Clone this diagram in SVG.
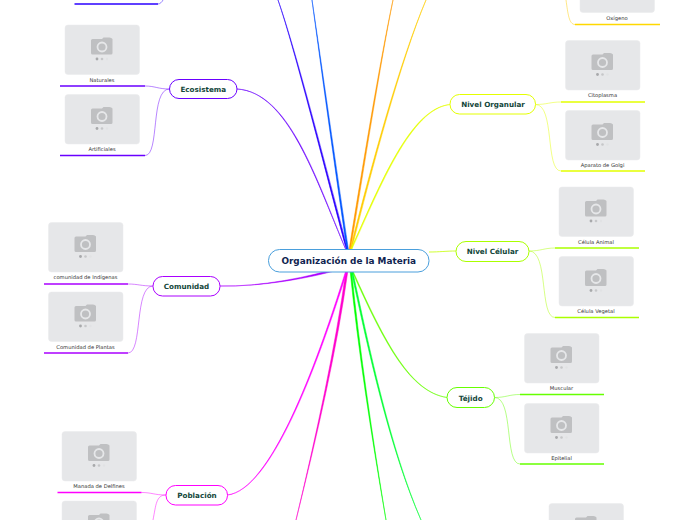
<svg xmlns="http://www.w3.org/2000/svg" width="696" height="520" viewBox="0 0 696 520">
<style>
text{font-family:"DejaVu Sans",Verdana,sans-serif;text-anchor:middle}
.n{font-size:7.2px;font-weight:700;fill:#12463a}
.c{font-size:8.9px;font-weight:700;fill:#0f2450}
.l{font-size:5.2px;fill:#333}
.b{fill:#fff;stroke-width:1}
.m{stroke-width:.5;stroke-linejoin:round}
.s{fill:none;stroke-width:.8;opacity:.6}
.u{fill:none;stroke-width:1.5}
</style>
<defs>
<g id="ph">
<rect x="0" y="0" width="74.500" height="49.500" rx="3" fill="#e6e7e9" stroke="#ebebec" stroke-width=".5"/>
<path d="M26 15.500q0-1.500 1.500-1.500h9.500l1.500-1.500h6q2 0 3 1.500v14q0 1.500-1.500 1.500h-18.500q-1.500 0-1.500-1.500z" fill="#bfc0c2"/>
<circle cx="37" cy="22" r="4.500" fill="none" stroke="#e6e7e9" stroke-width="1.800"/>
<circle cx="32" cy="34" r="1.400" fill="#a8a9ab"/>
<circle cx="37" cy="34" r="1.300" fill="#c6c7c9"/>
<circle cx="42" cy="34" r="1.200" fill="#e1e2e4"/>
</g>
</defs>
<g id="connectors">
<path class="m" fill="#6a00ff" stroke="#6a00ff" d="M237 89C288 92 315 178 346 250C316 178 289 92 237 89Z"/>
<path class="m" fill="#2a00ff" stroke="#2a00ff" d="M278 0C295 50 325 170 346.500 250L348 250C326.500 170 296 50 278 0Z"/>
<path class="m" fill="#0055ff" stroke="#0055ff" d="M312 0C320 60 335 170 347 250L348.500 250C336.500 170 321 60 312 0Z"/>
<path class="m" fill="#ff9900" stroke="#ff9900" d="M393 0C380 60 362 170 349 250L350.500 250C363.500 170 381 60 393 0Z"/>
<path class="m" fill="#ffcc00" stroke="#ffcc00" d="M426 0C400 60 370 170 350 250L351.500 250C371.500 170 401 60 426 0Z"/>
<path class="m" fill="#e4ff00" stroke="#e4ff00" d="M450 104.500C410 108 380 185 350.500 250L351.500 250C381 185 411 109 450 104.500Z"/>
<path class="s" style="opacity:1" stroke="#c4ff00" d="M429 252C440 252 446 251 456 251"/>
<path class="m" fill="#66ff00" stroke="#66ff00" d="M447 397.500C410 392 385 345 351.500 270L352.500 270C386 345 411 392 447 397.500Z"/>
<path class="m" fill="#00ff00" stroke="#00ff00" d="M386 520C372 440 358 350 350 270L351.500 270C359.500 350 373 440 386 520Z"/>
<path class="m" fill="#00ff33" stroke="#00ff33" d="M421 520C390 450 368 350 351 270L352.500 270C369.500 350 391 450 421 520Z"/>
<path class="m" fill="#ff00cc" stroke="#ff00cc" d="M296 520C315 440 335 350 346 270L348 270C337 350 316 440 296 520Z"/>
<path class="m" fill="#ff00ff" stroke="#ff00ff" d="M227.500 495C270 490 315 370 346 270L347.500 270C316 370 271 490 227.500 495Z"/>
<path class="m" fill="#aa00ff" stroke="#aa00ff" d="M220 286C260 287 310 277 345 266L345 268C310 278.500 260 287 220 286Z"/>
<path class="s" stroke="#2a00ff" d="M158 4C160 4 162 2 163 0"/>
<path class="u" stroke="#2a00ff" d="M74.500 4H158"/>
<path class="s" stroke="#6a00ff" d="M169.500 89C158 89 155 86 145 86M169.500 89C150 89 160 155.500 145 155.500"/>
<path class="u" stroke="#6a00ff" d="M60 86H145M60 155.500H145"/>
<path class="s" stroke="#aa00ff" d="M153 286C141 286 138 284 128 284M153 286C134 286 143 353 128 353"/>
<path class="u" stroke="#aa00ff" d="M44 284H128M44 353H128"/>
<path class="s" stroke="#ff00ff" d="M166 495C154 495 152 492.500 141.500 492.500M166 495C156 495 156 505 153 520"/>
<path class="u" stroke="#ff00ff" d="M57.500 492.500H141.500"/>
<path class="s" stroke="#ffcc00" d="M566 0C568 14 569 24.500 575 24.500"/>
<path class="u" stroke="#ffd800" d="M575 24.500H660"/>
<path class="s" stroke="#e4ff00" d="M535.500 104.500C547 104.500 550 102 561 102M535.500 104.500C555 104.500 545 171 561 171"/>
<path class="u" stroke="#e4ff00" d="M561 102H645M561 171H645"/>
<path class="s" stroke="#aaff00" d="M529 251C541 251 544 248 555 248M529 251C549 251 539 317.500 555 317.500"/>
<path class="u" stroke="#aaff00" d="M555 248H639M555 317.500H639"/>
<path class="s" stroke="#66ff00" d="M494.500 397.500C506 397.500 509 394.500 520 394.500M494.500 397.500C514 397.500 504 464 520 464"/>
<path class="u" stroke="#66ff00" d="M520 394.500H604M520 464H604"/>
</g>
<g id="center"><rect class="b" x="268.500" y="249.500" width="160.500" height="22.500" rx="11" stroke="#4a9fdc"/><text class="c" x="348.800" y="264">Organización de la Materia</text></g>
<g id="ecosistema"><rect class="b" x="169.500" y="79.500" width="67.500" height="19" rx="9.500" stroke="#6a00ff"/><text class="n" x="203.300" y="92">Ecosistema</text></g>
<g id="comunidad"><rect class="b" x="153" y="276.500" width="67" height="19.500" rx="9.500" stroke="#aa00ff"/><text class="n" x="186.500" y="289">Comunidad</text></g>
<g id="poblacion"><rect class="b" x="166" y="485.500" width="61.500" height="19.500" rx="9.500" stroke="#ff00ff"/><text class="n" x="197" y="498">Población</text></g>
<g id="organular"><rect class="b" x="450" y="94.500" width="85.500" height="19.500" rx="9.500" stroke="#e4ff00"/><text class="n" x="493" y="107">Nivel Organular</text></g>
<g id="celular"><rect class="b" x="456" y="241.500" width="73" height="20" rx="10" stroke="#aaff00"/><text class="n" x="492.500" y="254">Nivel Célular</text></g>
<g id="tejido"><rect class="b" x="447" y="387.500" width="47.500" height="20" rx="10" stroke="#66ff00"/><text class="n" x="470.700" y="400.500">Téjido</text></g>
<g id="naturales"><use href="#ph" x="65" y="25"/><text class="l" x="102" y="82">Naturales</text></g>
<g id="artificiales"><use href="#ph" x="65" y="94.500"/><text class="l" x="102" y="151">Artificiales</text></g>
<g id="indigenas"><use href="#ph" x="48.500" y="222.500"/><text class="l" x="85.500" y="279">comunidad de Indígenas</text></g>
<g id="plantas"><use href="#ph" x="48.500" y="292"/><text class="l" x="85.500" y="349">Comunidad de Plantas</text></g>
<g id="delfines"><use href="#ph" x="62" y="431.500"/><text class="l" x="99" y="488">Manada de Delfines</text></g>
<g id="poblacion2"><use href="#ph" x="62" y="501"/></g>
<g id="oxigeno"><use href="#ph" x="580" y="-37"/><text class="l" x="617" y="20">Oxígeno</text></g>
<g id="citoplasma"><use href="#ph" x="565.500" y="40.500"/><text class="l" x="602.500" y="97">Citoplasma</text></g>
<g id="golgi"><use href="#ph" x="565.500" y="110.500"/><text class="l" x="602.500" y="167">Aparato de Golgi</text></g>
<g id="animal"><use href="#ph" x="559" y="187"/><text class="l" x="596" y="244">Célula Animal</text></g>
<g id="vegetal"><use href="#ph" x="559" y="256.500"/><text class="l" x="596" y="313">Célula Vegetal</text></g>
<g id="muscular"><use href="#ph" x="524.500" y="333.500"/><text class="l" x="561.500" y="390">Muscular</text></g>
<g id="epitelial"><use href="#ph" x="524.500" y="403.500"/><text class="l" x="561.500" y="460">Epitelial</text></g>
<g id="inferior"><use href="#ph" x="549" y="503.500"/></g>
</svg>
